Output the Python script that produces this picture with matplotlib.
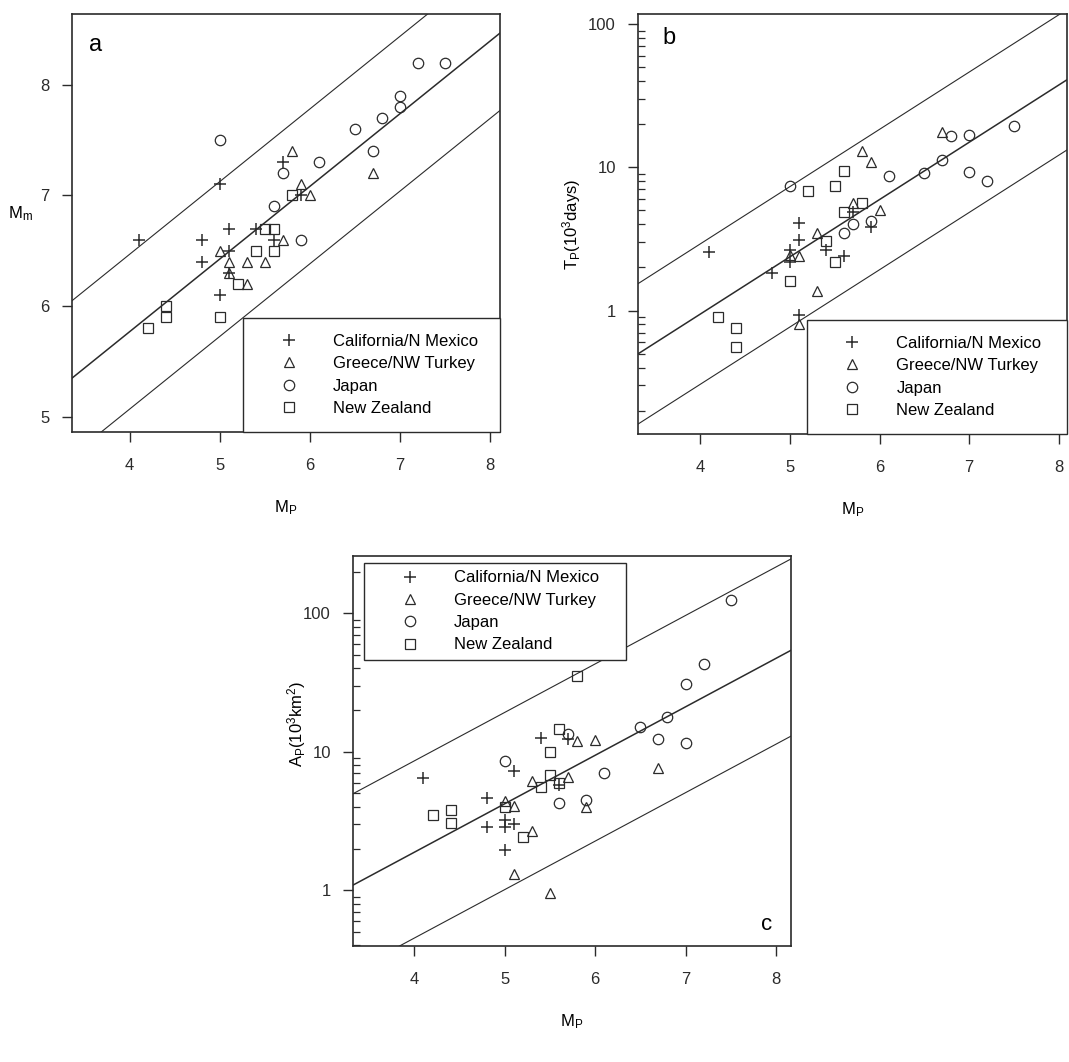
import matplotlib
matplotlib.use('Agg')
import matplotlib.pyplot as plt
import numpy as np
from matplotlib.ticker import LogLocator, NullFormatter

plt.rcParams['font.family'] = ['Liberation Sans', 'DejaVu Sans']
plt.rcParams['mathtext.fontset'] = 'custom'
plt.rcParams['mathtext.rm'] = 'Liberation Sans'
plt.rcParams['mathtext.it'] = 'Liberation Sans:italic'

regions = ['California/N Mexico', 'Greece/NW Turkey', 'Japan', 'New Zealand']
markers = ['+', '^', 'o', 's']

# panel a : Mm against Mp
a_cal_mp = [4.1, 4.8, 4.8, 5.0, 5.0, 5.1, 5.1, 5.1, 5.4, 5.6, 5.7, 5.9]
a_cal_mm = [6.6, 6.6, 6.4, 7.1, 6.1, 6.7, 6.5, 6.3, 6.7, 6.6, 7.3, 7.0]
a_gre_mp = [5.0, 5.1, 5.1, 5.3, 5.3, 5.5, 5.7, 5.8, 5.9, 6.0, 6.7]
a_gre_mm = [6.5, 6.4, 6.3, 6.4, 6.2, 6.4, 6.6, 7.4, 7.1, 7.0, 7.2]
a_jap_mp = [5.0, 5.6, 5.7, 5.9, 6.1, 6.5, 6.7, 6.8, 7.0, 7.0, 7.2, 7.5]
a_jap_mm = [7.5, 6.9, 7.2, 6.6, 7.3, 7.6, 7.4, 7.7, 7.9, 7.8, 8.2, 8.2]
a_nz_mp = [4.2, 4.4, 4.4, 5.0, 5.2, 5.4, 5.5, 5.6, 5.6, 5.8]
a_nz_mm = [5.8, 6.0, 5.9, 5.9, 6.2, 6.5, 6.7, 6.7, 6.5, 7.0]

# panel b : Tp (10^3 days) against Mp
b_cal_mp = [4.1, 4.8, 5.0, 5.0, 5.1, 5.1, 5.1, 5.4, 5.6, 5.7, 5.9]
b_cal_tp = [2.55, 1.83, 2.63, 2.2, 4.1, 3.1, 0.93, 2.66, 2.4, 4.9, 3.8]
b_gre_mp = [5.0, 5.1, 5.1, 5.3, 5.3, 5.7, 5.8, 5.9, 6.0, 6.7]
b_gre_tp = [2.45, 2.39, 0.8, 3.5, 1.36, 5.6, 12.9, 10.9, 5.0, 17.6]
b_jap_mp = [5.0, 5.6, 5.7, 5.9, 6.1, 6.5, 6.7, 6.8, 7.0, 7.0, 7.2, 7.5]
b_jap_tp = [7.45, 3.5, 4.0, 4.2, 8.65, 9.1, 11.3, 16.5, 16.7, 9.2, 8.0, 19.4]
b_nz_mp = [4.2, 4.4, 4.4, 5.0, 5.2, 5.4, 5.5, 5.5, 5.6, 5.6, 5.8]
b_nz_tp = [0.9, 0.75, 0.56, 1.6, 6.8, 3.04, 7.45, 2.2, 9.4, 4.9, 5.6]

# panel c : Ap (10^3 km^2) against Mp
c_cal_mp = [4.1, 4.8, 4.8, 5.0, 5.0, 5.0, 5.1, 5.1, 5.4, 5.6, 5.7]
c_cal_ap = [6.5, 4.6, 2.87, 3.2, 2.84, 1.95, 7.3, 3.0, 12.6, 5.8, 12.3]
c_gre_mp = [5.0, 5.1, 5.1, 5.3, 5.3, 5.5, 5.7, 5.8, 5.9, 6.0, 6.7]
c_gre_ap = [4.4, 4.05, 1.32, 6.2, 2.7, 0.96, 6.6, 12.0, 4.0, 12.1, 7.7]
c_jap_mp = [5.0, 5.6, 5.7, 5.9, 6.1, 6.5, 6.7, 6.8, 7.0, 7.0, 7.2, 7.5]
c_jap_ap = [8.6, 4.3, 13.4, 4.5, 7.0, 15, 12.3, 17.9, 31, 11.6, 43, 125]
c_nz_mp = [4.2, 4.4, 4.4, 5.0, 5.2, 5.4, 5.5, 5.5, 5.6, 5.6, 5.8]
c_nz_ap = [3.5, 3.8, 3.07, 4.0, 2.43, 5.6, 9.9, 6.8, 14.5, 6.0, 35]

# regression lines: slope, intercept, lower and upper band offsets (log10 for b and c)
fit_a = (0.657, 3.14, -0.70, 0.70)
fit_b = (0.40, -1.625, -0.49, 0.49)
fit_c = (0.35, -1.125, -0.62, 0.66)

ink = '#2b2b2b'
fig = plt.figure(figsize=(10.69, 10.62), dpi=100)
fig.patch.set_facecolor('white')

ax_a = fig.add_axes([0.0674, 0.5932, 0.4004, 0.3936])
ax_b = fig.add_axes([0.5968, 0.5913, 0.4013, 0.3955])
ax_c = fig.add_axes([0.3302, 0.1092, 0.4097, 0.3672])


def scatter_groups(ax, groups):
    handles = []
    for (xs, ys), m, lab in zip(groups, markers, regions):
        if m == '+':
            h, = ax.plot(xs, ys, ls='none', marker='+', ms=8.5, mew=1.1, color=ink, label=lab)
        else:
            h, = ax.plot(xs, ys, ls='none', marker=m, ms=7.5, mew=0.9, mfc='none', mec=ink, label=lab)
        handles.append(h)
    return handles


def fit_lines(ax, fit, xlim, log=False):
    slope, icpt, low, up = fit
    xx = np.array(xlim)
    for off, lw in [(low, 0.8), (0, 1.1), (up, 0.8)]:
        yy = slope * xx + icpt + off
        if log:
            yy = 10 ** yy
        ax.plot(xx, yy, color=ink, lw=lw)


def style(ax):
    for s in ax.spines.values():
        s.set_linewidth(1.2)
        s.set_color(ink)
    ax.tick_params(which='major', direction='out', length=7, width=1, labelsize=12, colors=ink)
    ax.tick_params(axis='x', which='major', pad=12)
    ax.tick_params(axis='y', which='major', pad=9)
    ax.tick_params(which='minor', direction='in', length=5, width=0.9, colors=ink)
    ax.set_xticks([4, 5, 6, 7, 8])


def add_legend(ax, handles, bbox, loc, bpad, hlen, tpad):
    leg = ax.legend(handles=handles, loc=loc, bbox_to_anchor=bbox, mode='expand',
                    borderaxespad=0, fancybox=False, framealpha=1, edgecolor=ink,
                    fontsize=12, handlelength=hlen, handletextpad=tpad, borderpad=bpad,
                    labelspacing=0.44)
    leg.get_frame().set_linewidth(1.0)


# ---- panel a
xl_a = (3.36, 8.11)
fit_lines(ax_a, fit_a, xl_a)
h = scatter_groups(ax_a, [(a_cal_mp, a_cal_mm), (a_gre_mp, a_gre_mm),
                          (a_jap_mp, a_jap_mm), (a_nz_mp, a_nz_mm)])
ax_a.set_xlim(xl_a)
ax_a.set_ylim(4.86, 8.64)
ax_a.set_yticks([5, 6, 7, 8])
style(ax_a)
ax_a.set_xlabel('M$_\\mathrm{P}$', fontsize=12, labelpad=18)
ax_a.set_ylabel('M$_\\mathrm{m}$', fontsize=12, rotation=0)
ax_a.yaxis.set_label_coords(-0.121, 0.50)
ax_a.text(0.04, 0.926, 'a', transform=ax_a.transAxes, fontsize=17, va='center', ha='left')
add_legend(ax_a, h, (0.399, 0, 0.601, 0.273), 'lower left', 0.97, 3.57, 0.85)

# ---- panel b
xl_b = (3.306, 8.09)
fit_lines(ax_b, fit_b, xl_b, log=True)
h = scatter_groups(ax_b, [(b_cal_mp, b_cal_tp), (b_gre_mp, b_gre_tp),
                          (b_jap_mp, b_jap_tp), (b_nz_mp, b_nz_tp)])
ax_b.set_yscale('log')
ax_b.set_xlim(xl_b)
ax_b.set_ylim(10 ** -0.862, 10 ** 2.07)
ax_b.set_yticks([1, 10, 100], ['1', '10', '100'])
ax_b.yaxis.set_minor_locator(LogLocator(base=10, subs=np.arange(2, 10)))
ax_b.yaxis.set_minor_formatter(NullFormatter())
style(ax_b)
ax_b.set_xlabel('M$_\\mathrm{P}$', fontsize=12, labelpad=18)
ax_b.set_ylabel('T$_\\mathrm{P}$(10$^3$days)', fontsize=12)
ax_b.yaxis.set_label_coords(-0.128, 0.5)
ax_b.text(0.058, 0.943, 'b', transform=ax_b.transAxes, fontsize=17, va='center', ha='left')
add_legend(ax_b, h, (0.393, 0, 0.607, 0.276), 'lower left', 0.97, 3.57, 0.85)

# ---- panel c
xl_c = (3.32, 8.166)
fit_lines(ax_c, fit_c, xl_c, log=True)
h = scatter_groups(ax_c, [(c_cal_mp, c_cal_ap), (c_gre_mp, c_gre_ap),
                          (c_jap_mp, c_jap_ap), (c_nz_mp, c_nz_ap)])
ax_c.set_yscale('log')
ax_c.set_xlim(xl_c)
ax_c.set_ylim(10 ** -0.403, 10 ** 2.414)
ax_c.set_yticks([1, 10, 100], ['1', '10', '100'])
ax_c.yaxis.set_minor_locator(LogLocator(base=10, subs=np.arange(2, 10)))
ax_c.yaxis.set_minor_formatter(NullFormatter())
style(ax_c)
ax_c.set_xlabel('M$_\\mathrm{P}$', fontsize=12, labelpad=18)
ax_c.set_ylabel('A$_\\mathrm{P}$(10$^3$km$^2$)', fontsize=12)
ax_c.yaxis.set_label_coords(-0.103, 0.57)
ax_c.text(0.944, 0.054, 'c', transform=ax_c.transAxes, fontsize=16, va='center', ha='center')
add_legend(ax_c, h, (0.025, 0.733, 0.598, 0.25), 'upper left', 0.46, 4.6, 0.34)

fig.savefig('out.png', dpi=100, facecolor='white')
